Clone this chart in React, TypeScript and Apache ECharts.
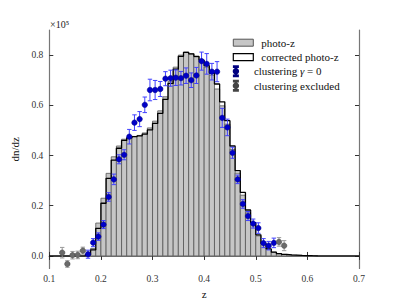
import React, { useEffect, useRef } from "react";
import * as echarts from "echarts";

// Histogram bins (left edges), width 0.01
const BIN_WIDTH = 0.01;
const binStarts = [
  0.17, 0.18, 0.19, 0.2, 0.21, 0.22, 0.23, 0.24, 0.25, 0.26, 0.27, 0.28, 0.29, 0.3, 0.31,
  0.32, 0.33, 0.34, 0.35, 0.36, 0.37, 0.38, 0.39, 0.4, 0.41, 0.42, 0.43, 0.44, 0.45, 0.46,
  0.47, 0.48, 0.49, 0.5, 0.51, 0.52, 0.53, 0.54, 0.55, 0.56, 0.57, 0.58, 0.59, 0.6, 0.61,
];
// photo-z histogram (x 10^5)
const photoZ = [
  0.006, 0.03, 0.131, 0.23, 0.329, 0.395, 0.438, 0.465, 0.472, 0.476, 0.48, 0.49, 0.51, 0.537, 0.578,
  0.634, 0.696, 0.752, 0.8, 0.812, 0.805, 0.793, 0.776, 0.752, 0.72, 0.665, 0.598, 0.525, 0.425, 0.33,
  0.242, 0.172, 0.125, 0.08, 0.047, 0.027, 0.015, 0.009, 0.006, 0.004, 0.003, 0.002, 0.0015, 0.001, 0.0006,
];
// corrected photo-z histogram (x 10^5)
const correctedZ = [
  0.005, 0.024, 0.11, 0.21, 0.309, 0.382, 0.429, 0.46, 0.47, 0.475, 0.478, 0.485, 0.502, 0.528, 0.568,
  0.624, 0.687, 0.744, 0.795, 0.811, 0.805, 0.795, 0.78, 0.758, 0.728, 0.685, 0.614, 0.539, 0.438, 0.34,
  0.253, 0.183, 0.133, 0.084, 0.05, 0.028, 0.015, 0.009, 0.006, 0.004, 0.003, 0.002, 0.0015, 0.001, 0.0006,
];

// clustering gamma = 0
const clusterZ = [
  0.175, 0.185, 0.195, 0.205, 0.215, 0.225, 0.235, 0.245, 0.255, 0.265, 0.275, 0.285, 0.295,
  0.305, 0.315, 0.325, 0.335, 0.345, 0.355, 0.365, 0.375, 0.385, 0.395, 0.405, 0.415, 0.425,
  0.435, 0.445, 0.455, 0.465, 0.475, 0.485, 0.495, 0.505, 0.515, 0.525, 0.535,
];
const clusterN = [
  0.007, 0.053, 0.077, 0.125, 0.235, 0.305, 0.385, 0.403, 0.475, 0.531, 0.545, 0.602, 0.661,
  0.661, 0.665, 0.706, 0.708, 0.71, 0.708, 0.718, 0.7, 0.719, 0.776, 0.765, 0.734, 0.734,
  0.55, 0.512, 0.411, 0.305, 0.207, 0.159, 0.129, 0.111, 0.051, 0.041, 0.052,
];
const clusterErr = [
  0.016, 0.016, 0.015, 0.016, 0.017, 0.021, 0.018, 0.02, 0.029, 0.031, 0.03, 0.031, 0.043,
  0.038, 0.03, 0.028, 0.032, 0.031, 0.027, 0.031, 0.029, 0.032, 0.036, 0.041, 0.033, 0.04,
  0.038, 0.033, 0.022, 0.017, 0.017, 0.018, 0.018, 0.021, 0.018, 0.017, 0.019,
];

// clustering excluded
const excludedZ = [0.125, 0.135, 0.145, 0.155, 0.165, 0.545, 0.555];
const excludedN = [0.013, -0.032, 0.003, 0.004, 0.021, 0.056, 0.041];
const excludedErr = [0.021, 0.013, 0.015, 0.015, 0.014, 0.017, 0.02];

const yTicks = [0, 0.2, 0.4, 0.6, 0.8];

const FONT = '"Liberation Serif", "DejaVu Serif", serif';
const BLUE = "#0000c8";
const BLUE_ERR = "#4040ff";
const GRAY_PT = "#6a6a6a";
const GRAY_ERR = "#9a9a9a";

const ERR_ICON =
  "path://M1,0 H5 V0.7 H1 Z M2.6,0 H3.4 V10 H2.6 Z M1,9.3 H5 V10 H1 Z M0.8,5 A2.2,2.2 0 1 1 5.2,5 A2.2,2.2 0 1 1 0.8,5 Z";

function errorBarRender(color: string) {
  return (params: any, api: any) => {
    const x = api.value(0);
    const y = api.value(1);
    const e = api.value(2);
    const top = api.coord([x, y + e]);
    const bot = api.coord([x, y - e]);
    const cap = 2.2;
    const style = { stroke: color, lineWidth: 1 };
    return {
      type: "group",
      children: [
        { type: "line", shape: { x1: top[0], y1: top[1], x2: bot[0], y2: bot[1] }, style },
        { type: "line", shape: { x1: top[0] - cap, y1: top[1], x2: top[0] + cap, y2: top[1] }, style },
        { type: "line", shape: { x1: bot[0] - cap, y1: bot[1], x2: bot[0] + cap, y2: bot[1] }, style },
      ],
    };
  };
}

export default function App() {
  const ref = useRef<HTMLDivElement>(null);

  useEffect(() => {
    if (!ref.current) return;
    const chart = echarts.init(ref.current, undefined, { renderer: "svg" });

    const barData = binStarts.map((s, i) => [s, s + BIN_WIDTH, photoZ[i]]);
    const lastEdge = binStarts[binStarts.length - 1] + BIN_WIDTH;
    const stepData: number[][] = [[0.1, 0]];
    binStarts.forEach((s, i) => stepData.push([s, correctedZ[i]]));
    stepData.push([lastEdge, 0]);
    stepData.push([0.7, 0]);

    const clusterData = clusterZ.map((z, i) => [z, clusterN[i], clusterErr[i]]);
    const excludedData = excludedZ.map((z, i) => [z, excludedN[i], excludedErr[i]]);

    const axisLineStyle = { color: "#777", width: 1.2 };
    const tickStyle = { color: "#333", width: 1 };

    const option: any = {
      animation: false,
      backgroundColor: "#fff",
      grid: { left: 49.3, right: 40, top: 30, bottom: 30.5, containLabel: false, outerBoundsMode: "none" },
      xAxis: [
        {
          type: "value",
          position: "bottom",
          min: 0.1,
          max: 0.7,
          interval: 0.1,
          name: "z",
          nameLocation: "middle",
          nameGap: 17,
          nameTextStyle: { fontFamily: FONT, fontSize: 11, color: "#111" },
          axisLine: { show: true, lineStyle: axisLineStyle },
          axisTick: { show: true, inside: true, length: 4, lineStyle: tickStyle },
          axisLabel: {
            formatter: (v: number) => v.toFixed(1),
            fontFamily: FONT,
            fontSize: 9.5,
            color: "#333",
            margin: 5,
          },
          splitLine: { show: false },
        },
        {
          type: "value",
          position: "top",
          min: 0.1,
          max: 0.7,
          interval: 0.1,
          axisLine: { show: true, lineStyle: axisLineStyle },
          axisTick: { show: true, inside: true, length: 4, lineStyle: tickStyle },
          axisLabel: { show: false },
          splitLine: { show: false },
        },
      ],
      yAxis: [
        {
          type: "value",
          position: "left",
          min: -0.05,
          max: 0.9,
          name: "dn/dz",
          nameLocation: "middle",
          nameGap: 22,
          nameRotate: 90,
          nameTextStyle: { fontFamily: FONT, fontSize: 11, color: "#111" },
          axisLine: { show: true, lineStyle: axisLineStyle },
          axisTick: { show: true, inside: true, length: 4, lineStyle: tickStyle, customValues: yTicks },
          axisLabel: {
            customValues: yTicks,
            formatter: (v: number) => v.toFixed(1),
            fontFamily: FONT,
            fontSize: 9.5,
            color: "#333",
            margin: 6,
          },
          splitLine: { show: false },
        },
        {
          type: "value",
          position: "right",
          min: -0.05,
          max: 0.9,
          axisLine: { show: true, lineStyle: axisLineStyle },
          axisTick: { show: true, inside: true, length: 4, lineStyle: tickStyle, customValues: yTicks },
          axisLabel: { show: false, customValues: yTicks },
          splitLine: { show: false },
        },
      ],
      legend: [
        {
          orient: "vertical",
          left: 232.7,
          top: 36.7,
          padding: 0,
          itemGap: 2.5,
          itemWidth: 20,
          itemHeight: 7,
          textStyle: { fontFamily: FONT, fontSize: 11, color: "#111", lineHeight: 12, padding: [0, 0, 0, 3] },
          data: [
            { name: "photo-z", icon: "rect", itemStyle: { color: "#c6c6c6", borderColor: "#555", borderWidth: 1 } },
            { name: "corrected photo-z", icon: "rect", itemStyle: { color: "#ffffff", borderColor: "#000", borderWidth: 1.2 } },
          ],
        },
        {
          orient: "vertical",
          left: 232.7,
          top: 65.3,
          padding: 0,
          itemGap: 2.4,
          itemWidth: 20,
          itemHeight: 10,
          textStyle: {
            fontFamily: FONT,
            fontSize: 11,
            color: "#111",
            lineHeight: 12,
            padding: [0, 0, 0, 3],
            rich: { i: { fontFamily: FONT, fontSize: 11, fontStyle: "italic", color: "#111", lineHeight: 12 } },
          },
          formatter: (name: string) => (name === "clustering γ = 0" ? "clustering {i|γ} = 0" : name),
          data: [
            { name: "clustering γ = 0", icon: ERR_ICON, itemStyle: { color: BLUE } },
            { name: "clustering excluded", icon: ERR_ICON, itemStyle: { color: GRAY_PT } },
          ],
        },
      ],
      graphic: [
        {
          type: "text",
          left: 50,
          top: 19,
          style: { text: "×10⁵", font: `10px ${FONT}`, fill: "#222" },
        },
      ],
      series: [
        {
          name: "photo-z",
          type: "custom",
          xAxisIndex: 0,
          yAxisIndex: 0,
          z: 1,
          silent: true,
          itemStyle: { color: "#c6c6c6", borderColor: "#555" },
          renderItem: (params: any, api: any) => {
            const x0 = api.value(0);
            const x1 = api.value(1);
            const v = api.value(2);
            const p0 = api.coord([x0, 0]);
            const p1 = api.coord([x1, v]);
            return {
              type: "rect",
              shape: { x: p0[0], y: p1[1], width: p1[0] - p0[0], height: p0[1] - p1[1] },
              style: { fill: "#c6c6c6", stroke: "#555", lineWidth: 0.8 },
            };
          },
          encode: { x: [0, 1], y: 2 },
          data: barData,
        },
        {
          name: "corrected photo-z",
          type: "line",
          xAxisIndex: 0,
          yAxisIndex: 0,
          z: 2,
          step: "end",
          showSymbol: false,
          symbol: "none",
          silent: true,
          itemStyle: { color: "#000" },
          lineStyle: { color: "#000", width: 1.3 },
          data: stepData,
        },
        {
          type: "custom",
          name: "clusterErr",
          z: 3,
          silent: true,
          renderItem: errorBarRender(BLUE_ERR),
          encode: { x: 0, y: 1 },
          data: clusterData,
        },
        {
          type: "custom",
          name: "excludedErr",
          z: 3,
          silent: true,
          renderItem: errorBarRender(GRAY_ERR),
          encode: { x: 0, y: 1 },
          data: excludedData,
        },
        {
          name: "clustering γ = 0",
          type: "scatter",
          z: 4,
          symbol: "circle",
          symbolSize: 5.5,
          itemStyle: { color: BLUE, borderColor: "#000080", borderWidth: 0.5, opacity: 1 },
          data: clusterZ.map((z, i) => [z, clusterN[i]]),
        },
        {
          name: "clustering excluded",
          type: "scatter",
          z: 4,
          symbol: "circle",
          symbolSize: 5.5,
          itemStyle: { color: GRAY_PT, borderColor: "#444", borderWidth: 0.5, opacity: 1 },
          data: excludedZ.map((z, i) => [z, excludedN[i]]),
        },
      ],
    };

    chart.setOption(option);
    return () => chart.dispose();
  }, []);

  return (
    <div
      ref={ref}
      style={{ position: "fixed", left: 0, top: 0, width: 399, height: 299, background: "#fff" }}
    />
  );
}
